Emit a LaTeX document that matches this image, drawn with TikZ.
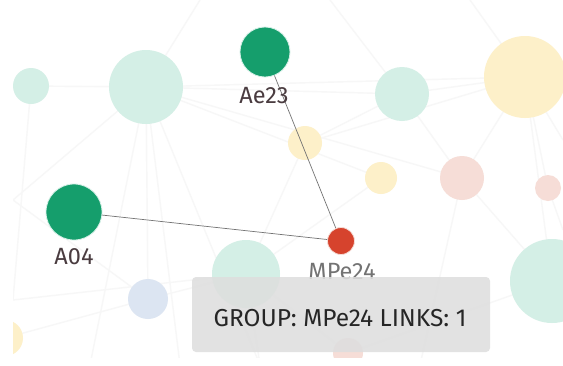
\documentclass[tikz,border=0pt]{standalone}
\usepackage{fontspec}
\setmainfont{Fira Sans}
\begin{document}
\begin{tikzpicture}[x=1pt,y=-1pt,
  bgnode/.style={circle,inner sep=0pt,draw=none},
  teal/.style={bgnode,fill=tealL},
  yel/.style={bgnode,fill=yelL},
  pnk/.style={bgnode,fill=pnkL},
  blu/.style={bgnode,fill=bluL},
  faint/.style={draw=black!3,line width=1.4pt},
  keynode/.style={circle,inner sep=0pt,fill=dkgreen,draw=tealL,line width=0.8pt},
  rednode/.style={circle,inner sep=0pt,fill=redN,draw=pnkL,line width=0.8pt},
  lbl/.style={font=\fontsize{23.5}{26}\selectfont,text=lblC,inner sep=0pt},
  link/.style={draw=black!55,line width=0.7pt},
  tip/.style={fill=black!13,fill opacity=0.88,rounded corners=4pt,draw=none},
  tiptext/.style={font=\fontsize{24.5}{28}\selectfont,text=black!85,inner sep=0pt}
]
\definecolor{tealL}{HTML}{D4EFE6}
\definecolor{yelL}{HTML}{FDF0C9}
\definecolor{pnkL}{HTML}{F6DDD7}
\definecolor{bluL}{HTML}{DCE5F2}
\definecolor{dkgreen}{HTML}{159E6C}
\definecolor{redN}{HTML}{D6432D}
\definecolor{lblC}{HTML}{4A3C40}
\useasboundingbox (0,0) rectangle (563,365);
\fill[white] (0,0) rectangle (563,365);
\begin{scope}
\clip (13,0) rectangle (563,357);
% background node positions
\coordinate (t1) at (31,86);
\coordinate (t2) at (146,87);
\coordinate (t3) at (402,94);
\coordinate (y1) at (525,77);
\coordinate (y2) at (305,143);
\coordinate (y3) at (381,178);
\coordinate (p1) at (462,178);
\coordinate (p2) at (548,188);
\coordinate (t4) at (552,281);
\coordinate (t5) at (246,274);
\coordinate (b1) at (148,299);
\coordinate (y4) at (5,338);
\coordinate (p3) at (348,353);
\coordinate (e1) at (200,0);
\coordinate (e2) at (90,365);
\coordinate (e3) at (180,365);
\coordinate (e4) at (260,365);
\coordinate (e5) at (470,0);
\coordinate (e6) at (563,140);
\coordinate (e7) at (563,230);
\coordinate (e8) at (13,200);
\coordinate (e9) at (13,300);
\coordinate (e10) at (420,365);
\coordinate (e11) at (330,0);
% faint background edges
\begin{scope}[faint]
\draw (t1) -- (t2);
\draw (t2) -- (e1);
\draw (t2) -- (e2);
\draw (t2) -- (e3);
\draw (t2) -- (e4);
\draw (t2) -- (t3);
\draw (t2) -- (y1);
\draw (t2) -- (p1);
\draw (t2) -- (y3);
\draw (t2) -- (b1);
\draw (t2) -- (e8);
\draw (t1) -- (e9);
\draw (t3) -- (y1);
\draw (t3) -- (p1);
\draw (t3) -- (e11);
\draw (t3) -- (y2);
\draw (y1) -- (p2);
\draw (y1) -- (t4);
\draw (y1) -- (e5);
\draw (y1) -- (e6);
\draw (y1) -- (p1);
\draw (y1) -- (y2);
\draw (p1) -- (t4);
\draw (p1) -- (e10);
\draw (p2) -- (e7);
\draw (y3) -- (t5);
\draw (y2) -- (t5);
\draw (t5) -- (b1);
\draw (t5) -- (e4);
\draw (b1) -- (e8);
\draw (b1) -- (y4);
\draw (t4) -- (p3);
\draw (p3) -- (t5);
\draw (e9) -- (t5);
\end{scope}
% background nodes
\node[teal,minimum size=36pt] (n1) at (t1) {};
\node[teal,minimum size=74pt] (n2) at (t2) {};
\node[teal,minimum size=54pt] (n3) at (t3) {};
\node[yel,minimum size=82pt] (n4) at (y1) {};
\node[yel,minimum size=34pt] (n5) at (y2) {};
\node[yel,minimum size=32pt] (n6) at (y3) {};
\node[pnk,minimum size=44pt] (n7) at (p1) {};
\node[pnk,minimum size=26pt] (n8) at (p2) {};
\node[teal,minimum size=84pt] (n9) at (t4) {};
\node[teal,minimum size=68pt] (n10) at (t5) {};
\node[blu,minimum size=40pt] (n11) at (b1) {};
\node[yel,minimum size=36pt] (n12) at (y4) {};
\node[pnk,minimum size=30pt] (n13) at (p3) {};
\end{scope}
% main nodes
\node[keynode,minimum size=50pt] (ae23) at (265,52) {};
\node[keynode,minimum size=56pt] (a04) at (74,212) {};
\node[rednode,minimum size=27pt] (mpe24) at (341,241) {};
\draw[link] (a04) -- (mpe24);
\draw[link] (ae23) -- (mpe24);
\node[lbl] (lae23) at (264,96) {Ae23};
\node[lbl] (la04) at (74,257) {A04};
\node[lbl,text=black!55] (lmpe24) at (342,272) {MPe24};
% tooltip
\node[tip,minimum width=298pt,minimum height=75pt] (tooltip) at (341,314.5) {};
\node[tiptext] (tt) at (340,318) {GROUP: MPe24 LINKS: 1};
\end{tikzpicture}
\end{document}
